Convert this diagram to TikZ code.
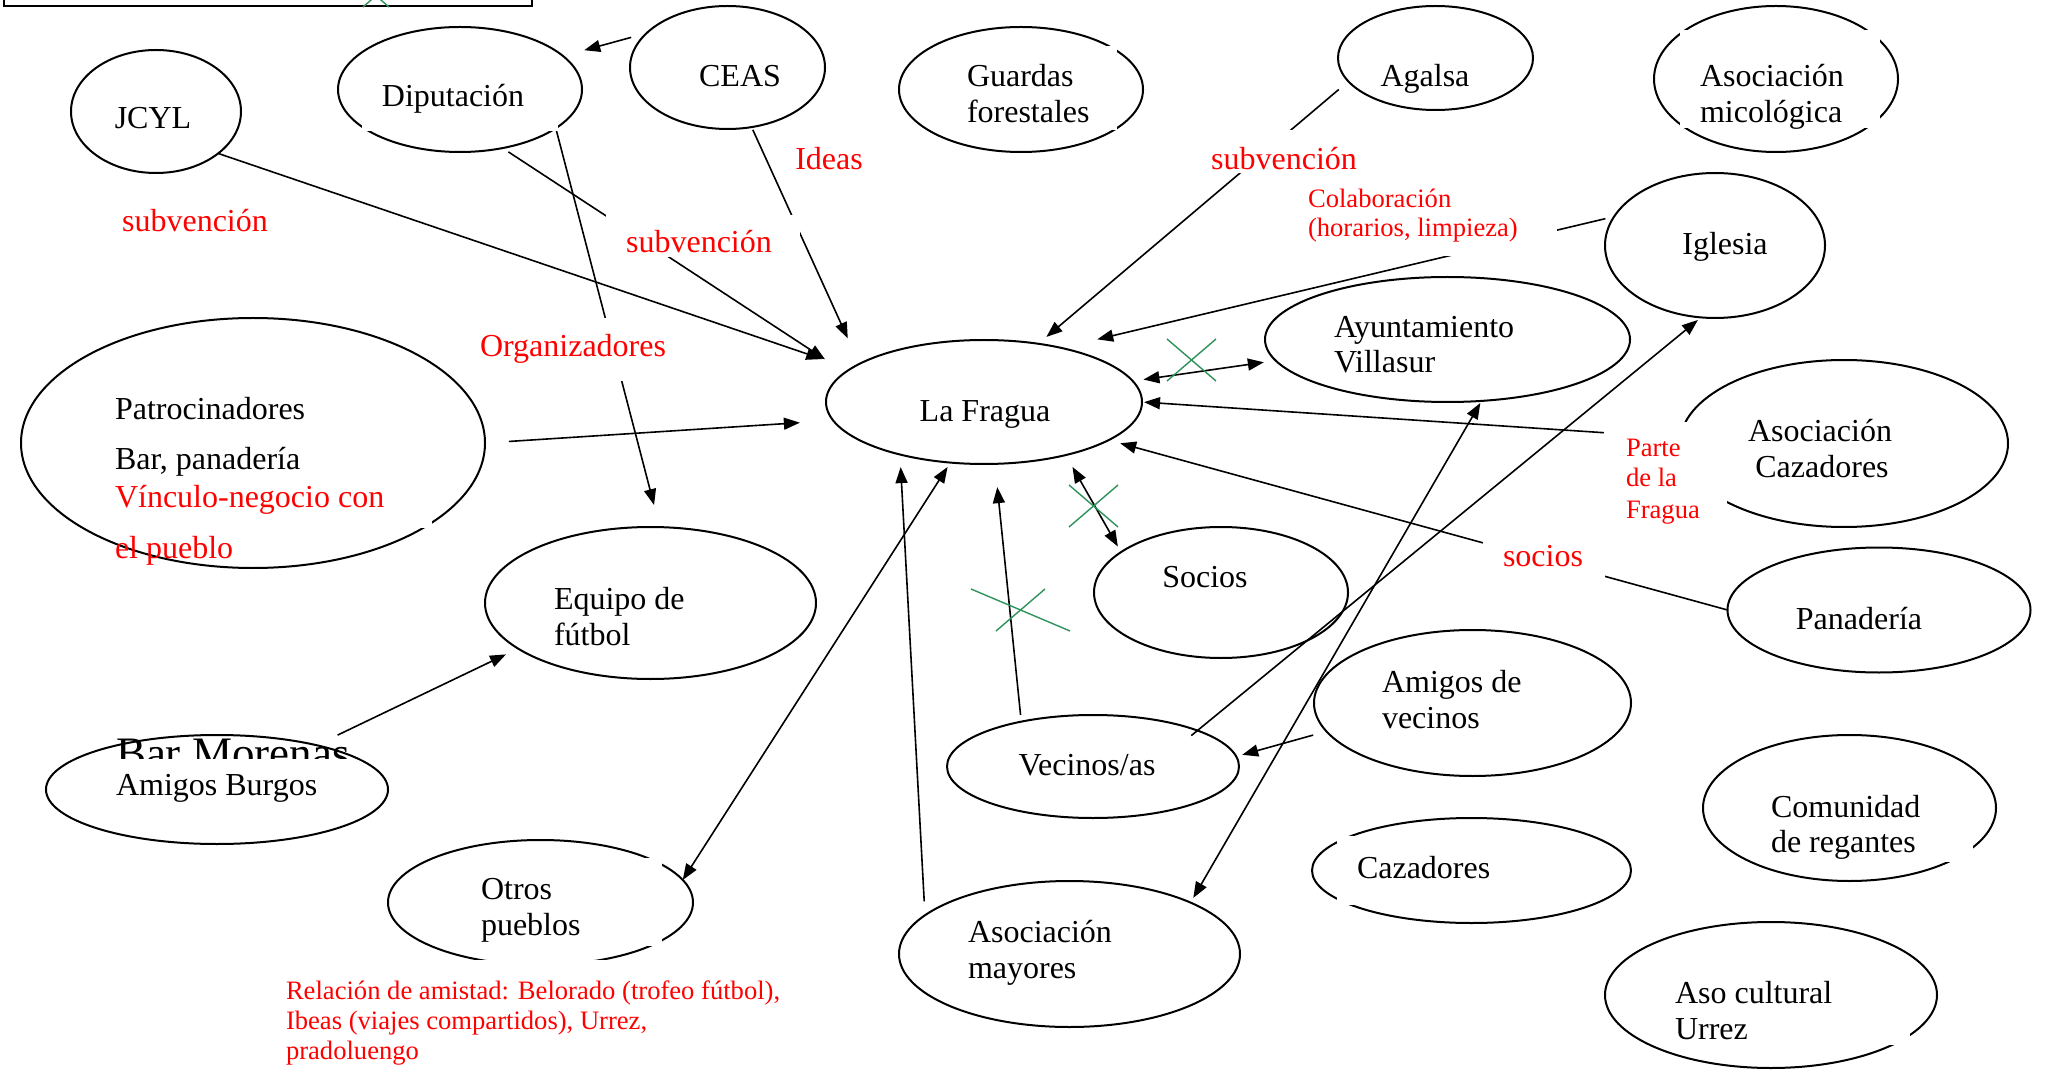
\documentclass[tikz,border=0pt]{standalone}
\usepackage{fontspec}
\setmainfont{Liberation Serif}
\usetikzlibrary{shapes.geometric,arrows.meta}
\definecolor{xgreen}{RGB}{46,146,92}
\begin{document}
\begin{tikzpicture}[x=0.5pt,y=-0.5pt,
  ell/.style={draw, ellipse, line width=1pt, inner sep=0pt, outer sep=0pt},
  conn/.style={line width=0.8pt},
  arr/.style={conn, -{Triangle[length=8pt,width=6pt]}},
  darr/.style={conn, {Triangle[length=8pt,width=6pt]}-{Triangle[length=8pt,width=6pt]}},
  txt/.style={inner sep=0pt, outer sep=0pt, font=\fontsize{16}{18}\selectfont},
  redtxt/.style={txt, text=red},
  smalltxt/.style={inner sep=0pt, outer sep=0pt, text=red, font=\fontsize{13.3}{15}\selectfont, anchor=base west},
  mask/.style={fill=white, draw=none, inner sep=0pt, outer sep=0pt, anchor=north west},
  cross/.style={draw=xgreen, line width=0.7pt}
]
\useasboundingbox (0,0) rectangle (2045,1080);
\clip (0,0) rectangle (2045,1080);

% top frame (cut off)
\draw[line width=1pt] (4,-20) rectangle (532,6);
\draw[cross] (363,7) -- (385,-12);
\draw[cross] (389,7) -- (367,-12);

% ellipses
\node[ell, minimum width=85pt, minimum height=61.5pt] (jcyl) at (156,111.5) {};
\node[ell, minimum width=122pt, minimum height=62.5pt] (dip) at (460,89.5) {};
\node[ell, minimum width=97.5pt, minimum height=61.5pt] (ceas) at (727.5,67.5) {};
\node[ell, minimum width=122pt, minimum height=62.5pt] (guard) at (1021,89.5) {};
\node[ell, minimum width=97.5pt, minimum height=52pt] (agalsa) at (1435.5,58) {};
\node[ell, minimum width=122pt, minimum height=73pt] (mico) at (1776,79) {};
\node[ell, minimum width=158pt, minimum height=62pt] (fragua) at (984,402) {};
\node[ell, minimum width=110pt, minimum height=72.5pt] (iglesia) at (1715,245.5) {};
\node[ell, minimum width=182.5pt, minimum height=62.5pt] (ayto) at (1447.5,339.5) {};
\node[ell, minimum width=164pt, minimum height=83.5pt] (cazA) at (1844,443.5) {};
\node[ell, minimum width=232pt, minimum height=125pt] (patro) at (253,443) {};
\node[ell, minimum width=165.5pt, minimum height=76pt] (equipo) at (650.5,603) {};
\node[ell, minimum width=127pt, minimum height=65.5pt] (socios) at (1221,592.5) {};
\node[ell, minimum width=151.5pt, minimum height=62.5pt] (pan) at (1879,610) {};
\node[ell, minimum width=158.5pt, minimum height=73pt] (amigosV) at (1472.5,703) {};
\node[ell, minimum width=171pt, minimum height=54.5pt] (burgos) at (217,789.5) {};
\node[ell, minimum width=146pt, minimum height=51.5pt] (vecinos) at (1093,766.5) {};
\node[ell, minimum width=152.5pt, minimum height=62.5pt] (otros) at (540.5,902.5) {};
\node[ell, minimum width=170.5pt, minimum height=73pt] (mayores) at (1069.5,954) {};
\node[ell, minimum width=159.5pt, minimum height=52.5pt] (caz) at (1471.5,870.5) {};
\node[ell, minimum width=146.5pt, minimum height=73pt] (regantes) at (1849.5,808) {};
\node[ell, minimum width=166pt, minimum height=73pt] (urrez) at (1771,995) {};

% connectors
\draw[arr, shorten >=15pt] (jcyl.-34) -- (fragua.166);
\draw[arr, shorten <=3.5pt, shorten >=12pt] (dip.-54) -- (fragua.168);
\draw[arr, shorten <=1.5pt, shorten >=14pt] (ceas.-68) -- (fragua.163);
\draw[arr, shorten <=8pt, shorten >=11pt] (ceas.157) -- (dip.18);
\draw[arr, shorten >=11.4pt] (dip.-22) -- (equipo.83);
\draw[arr, shorten <=6.3pt, shorten >=5.3pt] (agalsa.195) -- (fragua.47);
\draw[arr, shorten <=4.5pt, shorten >=18.5pt] (iglesia.164) -- (fragua.35);
\draw[darr, shorten <=5.4pt, shorten >=6pt] (fragua.8) -- (ayto.187);
\draw[arr, shorten >=1pt] (cazA.178) -- (fragua.0);
\draw[arr, shorten >=6pt] (pan.180) -- (fragua.-17);
\draw[darr, shorten <=6.8pt, shorten >=3.2pt] (fragua.-33) -- (socios.158);
\draw[arr, shorten <=3.4pt, shorten >=11.7pt] (vecinos.148) -- (fragua.-80);
\draw[arr, shorten <=7pt, shorten >=6.3pt] (mayores.165) -- (fragua.-148);
\draw[darr, shorten >=2.6pt] (otros.9) -- (fragua.-119);
\draw[arr, shorten <=-4pt, shorten >=2pt] (vecinos.19) -- (iglesia.-101);
\draw[darr, shorten <=1.2pt, shorten >=2.7pt] (ayto.-61) -- (mayores.23);
\draw[arr, shorten <=6.9pt, shorten >=3.1pt] (amigosV.191) -- (vecinos.4);
\draw[arr, shorten <=12pt, shorten >=16.7pt] (patro.0) -- (fragua.-173);
\draw[arr, shorten <=11.7pt, shorten >=6.7pt] (burgos.24) -- (equipo.199);

% green crosses
\draw[cross] (1167,339) -- (1216,381);
\draw[cross] (1216,339) -- (1167,381);
\draw[cross] (1069,485) -- (1118,527);
\draw[cross] (1118,485) -- (1069,527);
\draw[cross] (971,589) -- (1070,631);
\draw[cross] (1045,589) -- (996,631);

% white label boxes
\node[mask, minimum width=97pt, minimum height=21pt] (subvDbox) at (606,215) {};
\node[mask, minimum width=102.5pt, minimum height=31.5pt] (orgbox) at (470,318) {};
\node[mask, minimum width=80pt, minimum height=21.5pt] (subvAbox) at (1200,130) {};
\node[mask, minimum width=128.5pt, minimum height=35.5pt] (colabbox) at (1300,185) {};
\node[mask, minimum width=61.5pt, minimum height=54pt] (partebox) at (1604,422) {};
\node[mask, minimum width=61pt, minimum height=25pt] (sociosbox) at (1483,535) {};
\node[mask, minimum width=161pt, minimum height=21.5pt] (vincbox) at (110,485) {};
\node[mask, minimum width=255pt, minimum height=55pt] (relbox) at (280,960) {};
% white text boxes of ellipses
\node[mask, minimum width=98pt, minimum height=35.5pt] (dipbox) at (362,60) {};
\node[mask, minimum width=83.5pt, minimum height=42pt] (guardbox) at (950,46) {};
\node[mask, minimum width=100pt, minimum height=49pt] (micobox) at (1680,30) {};
\node[mask, minimum width=96pt, minimum height=44pt] (otrosbox) at (470,858) {};
\node[mask, minimum width=121.5pt, minimum height=34.5pt] (cazbox) at (1337,836) {};
\node[mask, minimum width=106.5pt, minimum height=46pt] (regbox) at (1760,770) {};
\node[mask, minimum width=122.5pt, minimum height=40pt] (urrezbox) at (1665,965) {};

% black texts
\node[txt, anchor=base] (jcylT) at (153,129) {JCYL};
\node[txt, anchor=base] (dipT) at (453,107) {Diputación};
\node[txt, anchor=base] (ceasT) at (740,87) {CEAS};
\node[txt, anchor=base west] (guardT1) at (967,87) {Guardas};
\node[txt, anchor=base west] (guardT2) at (967,123) {forestales};
\node[txt, anchor=base] (agalsaT) at (1425,87) {Agalsa};
\node[txt, anchor=base west] (micoT1) at (1700,87) {Asociación};
\node[txt, anchor=base west] (micoT2) at (1700,123) {micológica};
\node[txt, anchor=base] (fraguaT) at (985,422) {La Fragua};
\node[txt, anchor=base] (iglesiaT) at (1725,255) {Iglesia};
\node[txt, anchor=base west] (aytoT1) at (1334,338) {Ayuntamiento};
\node[txt, anchor=base west] (aytoT2) at (1334,373) {Villasur};
\node[txt, anchor=base] (cazAT1) at (1820,442) {Asociación};
\node[txt, anchor=base] (cazAT2) at (1822,478) {Cazadores};
\node[txt, anchor=base west] (patroT1) at (115,420) {Patrocinadores};
\node[txt, anchor=base west] (patroT2) at (115,470) {Bar, panadería};
\node[redtxt, anchor=base west] (patroT3) at (115,508) {Vínculo-negocio con};
\node[redtxt, anchor=base west] (patroT4) at (115,558) {el pueblo};
\node[txt, anchor=base west] (equipoT1) at (554,609) {Equipo de};
\node[txt, anchor=base west] (equipoT2) at (554,645) {fútbol};
\node[txt, anchor=base] (sociosT) at (1205,587) {Socios};
\node[txt, anchor=base] (panT) at (1859,629) {Panadería};
\node[txt, anchor=base west] (amigosVT1) at (1382,692) {Amigos de};
\node[txt, anchor=base west] (amigosVT2) at (1382,728) {vecinos};
\begin{scope}
  \clip (100,700) rectangle (420,758);
  \node[inner sep=0pt, outer sep=0pt, font=\fontsize{22.5}{26}\selectfont, anchor=base west] (barMor) at (116,768) {Bar Morenas};
\end{scope}
\node[txt, anchor=base west] (burgosT) at (116,795) {Amigos Burgos};
\node[txt, anchor=base] (vecinosT) at (1087,775) {Vecinos/as};
\node[txt, anchor=base west] (otrosT1) at (481,899) {Otros};
\node[txt, anchor=base west] (otrosT2) at (481,935) {pueblos};
\node[txt, anchor=base west] (mayoresT1) at (968,942) {Asociación};
\node[txt, anchor=base west] (mayoresT2) at (968,978) {mayores};
\node[txt, anchor=base west] (cazT) at (1357,878) {Cazadores};
\node[txt, anchor=base west] (regT1) at (1771,817) {Comunidad};
\node[txt, anchor=base west] (regT2) at (1771,852) {de regantes};
\node[txt, anchor=base west] (urrezT1) at (1675,1003) {Aso cultural};
\node[txt, anchor=base west] (urrezT2) at (1675,1039) {Urrez};

% red labels
\node[redtxt, anchor=base] (subvJ) at (195,232) {subvención};
\node[redtxt, anchor=base] (subvD) at (699,253) {subvención};
\node[redtxt, anchor=base] (ideas) at (829,170) {Ideas};
\node[redtxt, anchor=base] (org) at (573,357) {Organizadores};
\node[redtxt, anchor=base] (subvA) at (1284,170) {subvención};
\node[smalltxt] (colab1) at (1308,208) {Colaboración};
\node[smalltxt] (colab2) at (1308,237) {(horarios, limpieza)};
\node[smalltxt] (parte1) at (1626,457) {Parte};
\node[smalltxt] (parte2) at (1626,487) {de la};
\node[smalltxt] (parte3) at (1626,518) {Fragua};
\node[redtxt, anchor=base] (sociosL) at (1543,566) {socios};
\node[smalltxt] (rel1) at (286,999) {Relación de amistad: Belorado (trofeo fútbol),};
\node[smalltxt] (rel2) at (286,1029) {Ibeas (viajes compartidos), Urrez,};
\node[smalltxt] (rel3) at (286,1059) {pradoluengo};
\end{tikzpicture}
\end{document}
